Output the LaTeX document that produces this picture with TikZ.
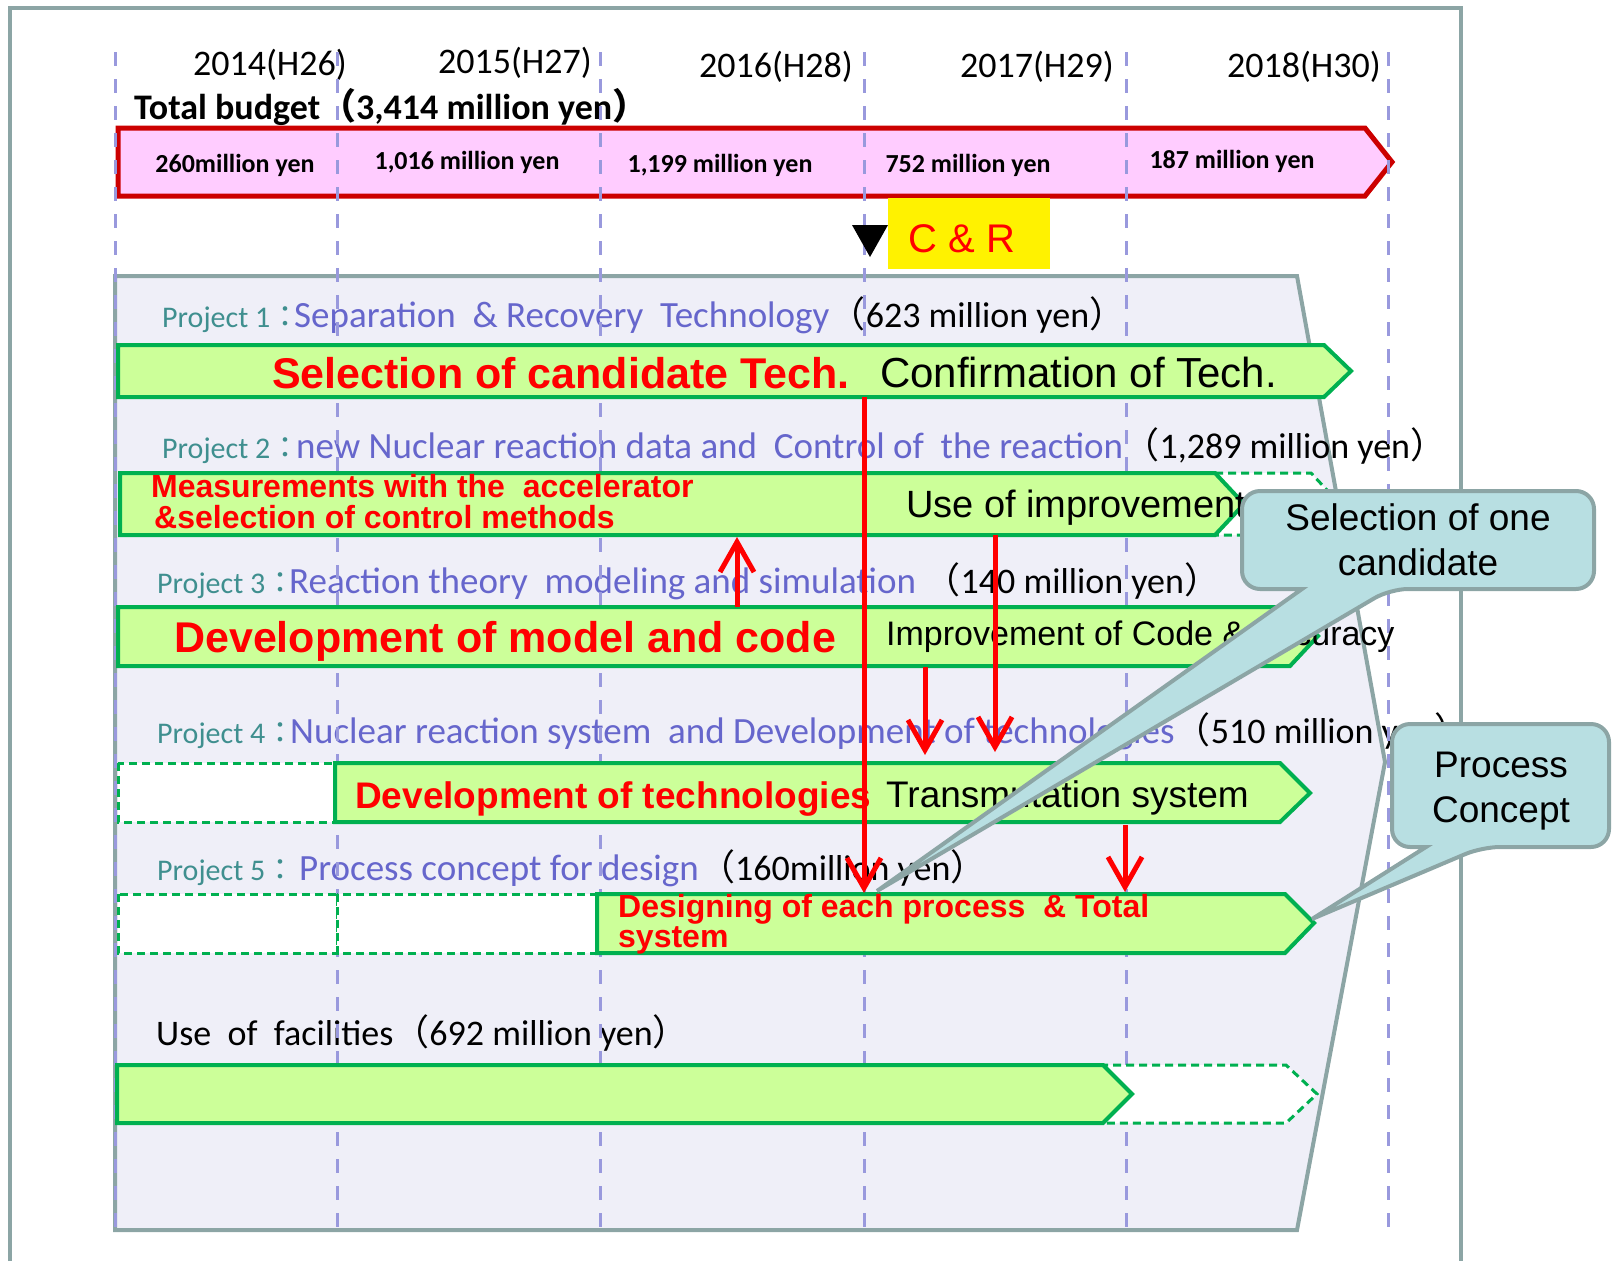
\documentclass[tikz,border=0pt]{standalone}
\usepackage{fontspec}
\setmainfont{Carlito}
\newfontfamily\arialfont{Liberation Sans}
\newfontfamily\cjk{Noto Sans CJK JP}
\usetikzlibrary{arrows.meta}

\definecolor{framegray}{HTML}{8CA5A5}
\definecolor{panelfill}{HTML}{EFEFF8}
\definecolor{yearblue}{HTML}{9999DD}
\definecolor{budgetpink}{HTML}{FFCCFF}
\definecolor{budgetred}{HTML}{CC0000}
\definecolor{barfill}{HTML}{CCFF99}
\definecolor{barline}{HTML}{00B050}
\definecolor{projteal}{HTML}{3F8F8F}
\definecolor{projblue}{HTML}{6666CC}
\definecolor{calloutfill}{HTML}{B8DFE2}

\newcommand{\fs}[1]{\fontsize{#1}{#1}\selectfont}
\newcommand{\lp}{{\cjk （}}
\newcommand{\rp}{{\cjk ）}}
\newcommand{\fcolon}{{\cjk ：}}

\tikzset{
  yearline/.style={draw=yearblue, line width=3pt, dash pattern=on 14pt off 13pt},
  yeartag/.style={anchor=base east, inner sep=0, font=\fs{36}},
  costtag/.style={anchor=base, inner sep=0, font=\bfseries\fs{26}},
  planbar/.style={fill=barfill, draw=barline, line width=4pt},
  openbar/.style={fill=white, draw=barline, line width=3pt, dash pattern=on 8pt off 5pt},
  projtag/.style={anchor=base west, inner sep=0, text=projteal, font=\fs{30}},
  projname/.style={anchor=base west, inner sep=0, text=projblue, font=\fs{37}},
  projcost/.style={anchor=base west, inner sep=0, font=\fs{36}},
  redtag/.style={anchor=base west, inner sep=0, text=red, font=\arialfont\bfseries\fs{#1}},
  blacktag/.style={anchor=base west, inner sep=0, font=\arialfont\fs{#1}},
  link/.style={draw=red, line width=5pt, -{Straight Barb[length=30pt,width=34pt]}},
  bubble/.style={fill=calloutfill, draw=framegray, line width=4pt, rounded corners=18pt},
  bubbletag/.style={anchor=base, inner sep=0, font=\arialfont\fs{37}}
}

\begin{document}
\begin{tikzpicture}[x=1pt, y=-1pt]
\useasboundingbox (0,0) rectangle (1614,1261);
\draw[framegray, line width=4pt] (10,1261) -- (10,8) -- (1461,8) -- (1461,1261);

% years and budget
\node[yeartag] (y14) at (347,75) {2014(H26)};
\node[yeartag] (y15) at (592,73) {2015(H27)};
\node[yeartag] (y16) at (853,77) {2016(H28)};
\node[yeartag] (y17) at (1114,77) {2017(H29)};
\node[yeartag] (y18) at (1381,77) {2018(H30)};
\node[anchor=base west, inner sep=0, font=\bfseries\fs{36}] (total) at (134,119) {Total budget\lp 3,414 million yen\rp};

\path[draw=budgetred, fill=budgetpink, line width=5pt] (118,128) -- (1365,128) -- (1392,162) -- (1365,196) -- (118,196) -- cycle;
\node[costtag] (c14) at (235,172) {260million yen};
\node[costtag] (c15) at (467,169) {1,016 million yen};
\node[costtag] (c16) at (720,172) {1,199 million yen};
\node[costtag] (c17) at (968,172) {752 million yen};
\node[costtag] (c18) at (1232,168) {187 million yen};

% projects panel
\path[draw=framegray, fill=panelfill, line width=4pt] (115,276) -- (1297,276) -- (1385,762) -- (1297,1230) -- (115,1230) -- cycle;

\node[projtag] (p1) at (162,327) {Project 1\fcolon};
\node[projname] (p1name) at (294,327) {Separation\ \ \& Recovery\ \ Technology};
\node[projcost] (p1cost) at (p1name.base east) {\lp 623 million yen\rp};
\node[projtag] (p2) at (162,458) {Project 2\fcolon};
\node[projname] (p2name) at (296,458) {new Nuclear reaction data and\ \ Control of\ \ the reaction};
\node[projcost] (p2cost) at (p2name.base east) {\lp 1,289 million yen\rp};
\node[projtag] (p3) at (157,593) {Project 3\fcolon};
\node[projname] (p3name) at (289,593) {Reaction theory\ \ modeling and simulation};
\node[projcost] (p3cost) at (p3name.base east) {\ \lp 140 million yen\rp};
\node[projtag] (p4) at (157,743) {Project 4\fcolon};
\node[projname] (p4name) at (290,743) {Nuclear reaction system\ \ and Development of technologies};
\node[projcost] (p4cost) at (p4name.base east) {\lp 510 million yen\rp};
\node[projtag] (p5) at (157,880) {Project 5\fcolon};
\node[projname] (p5name) at (299,880) {Process concept for design};
\node[projcost] (p5cost) at (p5name.base east) {\lp 160million yen\rp};
\node[projcost] (fac) at (156,1045) {Use\ \ of\ \ facilities\lp 692 million yen\rp};

\foreach \x in {115,337,600,864,1126,1388}
  \draw[yearline] (\x,52) -- (\x,1230);

% C & R
\node[fill=yellow, minimum width=162pt, minimum height=71pt, inner sep=0, anchor=north west] (crbox) at (888,198) {};
\node[anchor=base, inner sep=0, text=red, font=\arialfont\fs{40}] (crtext) at (962,252) {C \& R};
\fill (852,225) -- (888,225) -- (870,257) -- cycle;

% bars
\path[planbar] (118,345) -- (1324,345) -- (1351,371) -- (1324,397) -- (118,397) -- cycle;
\path[openbar] (1215,473) -- (1311,473) -- (1340,504) -- (1311,535) -- (1215,535);
\path[planbar] (120,473) -- (1215,473) -- (1244,504) -- (1215,535) -- (120,535) -- cycle;
\path[planbar] (118,607) -- (1290,607) -- (1318,636) -- (1290,666) -- (118,666) -- cycle;
\path[openbar] (118,763) rectangle (335,822);
\path[planbar] (335,763) -- (1280,763) -- (1310,793) -- (1280,822) -- (335,822) -- cycle;
\path[openbar] (118,894) rectangle (337,953);
\path[openbar] (337,894) rectangle (597,953);
\path[planbar] (597,894) -- (1285,894) -- (1314,923) -- (1285,953) -- (597,953) -- cycle;
\path[openbar] (1100,1065) -- (1286,1065) -- (1317,1094) -- (1286,1123) -- (1100,1123);
\path[planbar] (117,1065) -- (1103,1065) -- (1132,1094) -- (1103,1123) -- (117,1123) -- cycle;

\node[redtag=43] (sel) at (272,388) {Selection of candidate Tech.};
\node[blacktag=42] (conf) at (880,387) {Confirmation of Tech.};
\node[redtag=32] (meas) at (151,497) {Measurements with the\ \ accelerator};
\node[redtag=32] (meas2) at (154,528) {\&selection of control methods};
\node[blacktag=38] (useimp) at (906,517) {Use of improvement};
\node[redtag=43] (devmod) at (174,652) {Development of model and code};
\node[blacktag=34] (impcode) at (886,645) {Improvement of Code \& Accuracy};
\node[redtag=37] (devtech) at (355,808) {Development of technologies};
\node[blacktag=37] (trans) at (886,807) {Transmutation system};
\node[redtag=32] (design) at (618,917) {Designing of each process\ \ \& Total};
\node[redtag=32] (design2) at (618,947) {system};

% links
\draw[link] (864,397) -- (864,893);
\draw[link] (737,607) -- (737,537);
\draw[link] (925,667) -- (925,755);
\draw[link] (995,535) -- (995,752);
\draw[link] (1125,825) -- (1125,892);

% callouts
\path[bubble] (1242,491) -- (1594,491) -- (1594,589) -- (1390,589) [sharp corners] -- (877,891) -- (1302,589) [rounded corners=18pt] -- (1242,589) -- cycle;
\node[bubbletag] (one) at (1418,530) {Selection of one};
\node[bubbletag] (one2) at (1418,575) {candidate};
\path[bubble] (1392,724) -- (1609,724) -- (1609,847) -- (1482,847) [sharp corners] -- (1312,919) -- (1426,847) [rounded corners=18pt] -- (1392,847) -- cycle;
\node[bubbletag] (proc) at (1501,777) {Process};
\node[bubbletag] (proc2) at (1501,822) {Concept};
\end{tikzpicture}
\end{document}
